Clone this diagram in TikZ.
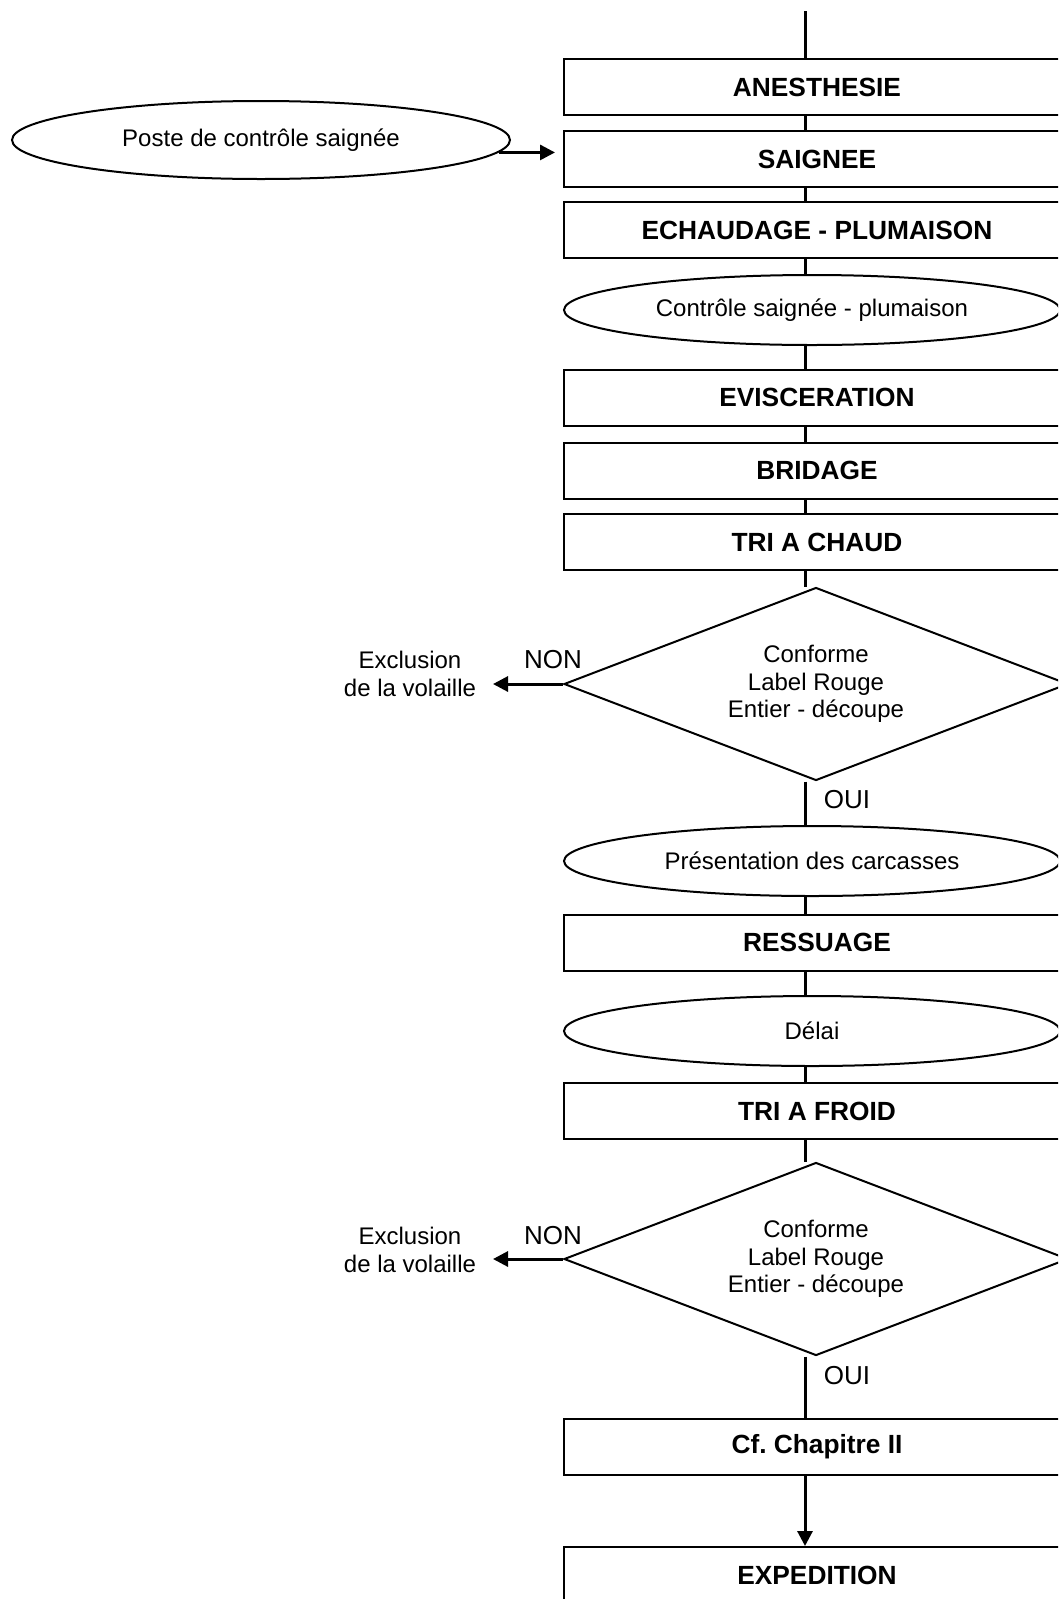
\documentclass[tikz,border=0pt]{standalone}
\usepackage{fontspec}
\setmainfont{Liberation Sans}
\frenchspacing
\usetikzlibrary{shapes.geometric,arrows.meta,backgrounds}
\begin{document}
\begin{tikzpicture}[x=1pt,y=-1pt,
  proc/.style={draw,line width=2pt,fill=white,rectangle,minimum width=506pt,minimum height=56pt,inner sep=0pt,font=\fontsize{26.3}{30}\selectfont\bfseries},
  ctrl/.style={draw,line width=2pt,fill=white,ellipse,minimum width=496pt,minimum height=70pt,inner sep=0pt,font=\fontsize{24}{28}\selectfont},
  test/.style={draw,line width=2pt,fill=white,diamond,aspect=2.6,minimum width=504pt,minimum height=193pt,inner sep=0pt,align=center,font=\fontsize{24}{27.5}\selectfont},
  link/.style={line width=3pt},
  arr/.style={line width=3pt,-{Triangle[length=15pt,width=15pt]}},
  lbl/.style={inner sep=0pt,font=\fontsize{24}{28}\selectfont,align=center},
  yn/.style={inner sep=0pt,font=\fontsize{26}{30}\selectfont}]
\useasboundingbox (0,0) rectangle (1058,1599);
\clip (0,0) rectangle (1058,1599);
\coordinate (spine) at (805,0);
\coordinate (top) at (805,11);

\node[proc] (ane) at (817,87) {ANESTHESIE};
\node[proc] (sai) at (817,159) {SAIGNEE};
\node[proc] (ech) at (817,230) {ECHAUDAGE - PLUMAISON};
\node[ctrl] (csp) at (812,310) {Contrôle saignée - plumaison};
\node[proc] (evi) at (817,397.5) {EVISCERATION};
\node[proc] (bri) at (817,470.5) {BRIDAGE};
\node[proc] (tch) at (817,542) {TRI A CHAUD};
\node[test] (d1) at (816,684) {Conforme\\Label Rouge\\Entier - découpe};
\node[ctrl] (pre) at (812,861) {Présentation des carcasses};
\node[proc] (res) at (817,942.5) {RESSUAGE};
\node[ctrl] (del) at (812,1031) {Délai};
\node[proc] (tfr) at (817,1111) {TRI A FROID};
\node[test] (d2) at (816,1259) {Conforme\\Label Rouge\\Entier - découpe};
\node[proc] (cfc) at (817,1447) {Cf. Chapitre II};
\node[proc] (exp) at (817,1575) {EXPEDITION};

\node[ctrl,minimum width=498pt,minimum height=78pt] (poste) at (261,140) {Poste de contrôle saignée};

\node[yn] (non1) at (553,660) {NON};
\node[yn] (oui1) at (847,800) {OUI};
\node[lbl] (exc1) at (410,674) {Exclusion\\de la volaille};
\coordinate (x1) at (493,684);

\node[yn] (non2) at (553,1236) {NON};
\node[yn] (oui2) at (847,1376) {OUI};
\node[lbl] (exc2) at (410,1250) {Exclusion\\de la volaille};
\coordinate (x2) at (493,1259);

\begin{scope}[on background layer]
\draw[link] (top) -- (ane.north -| spine);
\draw[link] (ane.south -| spine) -- (sai.north -| spine);
\draw[link] (sai.south -| spine) -- (ech.north -| spine);
\draw[link] (ech.south -| spine) -- (csp.north -| spine);
\draw[link] (csp.south -| spine) -- (evi.north -| spine);
\draw[link] (evi.south -| spine) -- (bri.north -| spine);
\draw[link] (bri.south -| spine) -- (tch.north -| spine);
\draw[link] (tch.south -| spine) -- (d1.north -| spine);
\draw[link] (d1.south -| spine) -- (pre.north -| spine);
\draw[link] (pre.south -| spine) -- (res.north -| spine);
\draw[link] (res.south -| spine) -- (del.north -| spine);
\draw[link] (del.south -| spine) -- (tfr.north -| spine);
\draw[link] (tfr.south -| spine) -- (d2.north -| spine);
\draw[link] (d2.south -| spine) -- (cfc.north -| spine);
\end{scope}
\draw[arr] (cfc.south -| spine) -- (exp.north -| spine);
\draw[arr] (poste.-3) -- ([xshift=-8pt]poste.-3 -| sai.west);
\draw[arr] (d1.west) -- (x1);
\draw[arr] (d2.west) -- (x2);
\end{tikzpicture}
\end{document}
